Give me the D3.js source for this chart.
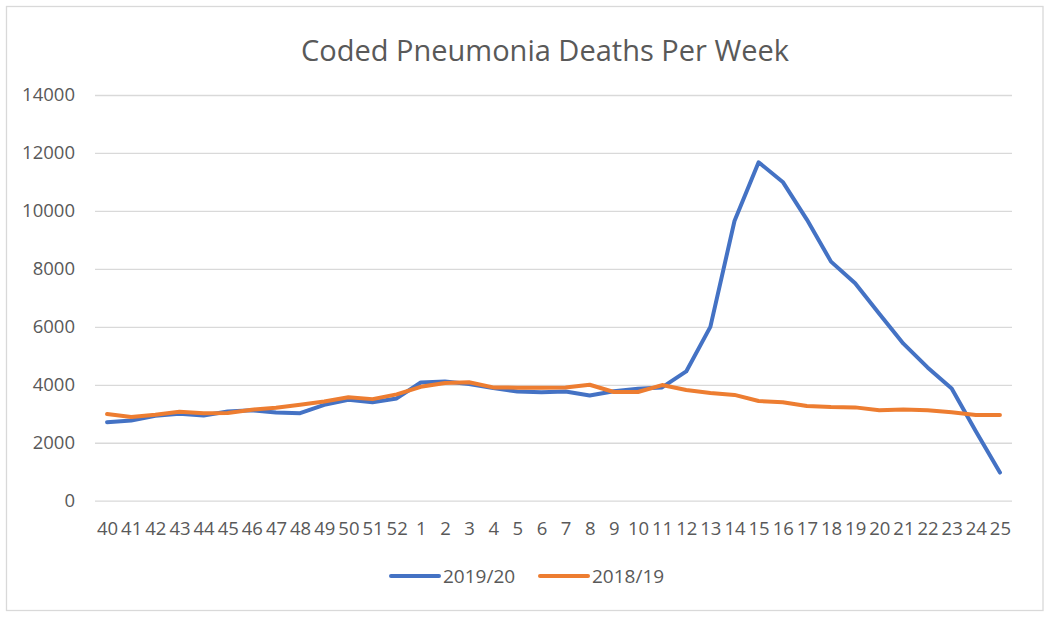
<!DOCTYPE html>
<html>
<head>
<meta charset="utf-8">
<script src="https://cdn.jsdelivr.net/npm/d3@7"></script>
<style>
  body { margin: 0; background: #fff; }
  svg { display: block; }
  text { font-family: "Open Sans", "Noto Sans", sans-serif; fill: #595959; }
</style>
</head>
<body>
<script>
// week numbers across the flu season
var weeks = ["40","41","42","43","44","45","46","47","48","49","50","51","52",
  "1","2","3","4","5","6","7","8","9","10","11","12","13","14","15","16","17",
  "18","19","20","21","22","23","24","25"];

var deaths1920 = [2710, 2770, 2930, 3000, 2940, 3080, 3120, 3040, 3020, 3310,
  3480, 3400, 3530, 4080, 4115, 4030, 3885, 3770, 3740, 3770, 3630, 3780, 3860,
  3910, 4460, 6000, 9650, 11680, 11000, 9700, 8250, 7500, 6450, 5420, 4600,
  3870, 2400, 970];

var deaths1819 = [2990, 2885, 2965, 3070, 3020, 3030, 3140, 3210, 3310, 3420,
  3570, 3505, 3670, 3930, 4060, 4090, 3910, 3900, 3900, 3910, 4000, 3750, 3750,
  3990, 3820, 3720, 3650, 3440, 3400, 3270, 3230, 3220, 3120, 3150, 3120,
  3050, 2960, 2960];

var yTicks = [0, 2000, 4000, 6000, 8000, 10000, 12000, 14000];

var series = [
  { name: "2019/20", values: deaths1920, color: "#4472C4" },
  { name: "2018/19", values: deaths1819, color: "#ED7D31" }
];

var W = 1049, H = 620;
var plot = { left: 95, right: 1012, top: 95, bottom: 500.7 };

var svg = d3.select("body").append("svg")
    .attr("width", W)
    .attr("height", H);

// chart frame
svg.append("rect")
    .attr("x", 6.5).attr("y", 6.5)
    .attr("width", 1036.5).attr("height", 604)
    .attr("fill", "#fff")
    .attr("stroke", "#d9d9d9")
    .attr("stroke-width", 1.3);

var x = d3.scalePoint().domain(weeks).range([plot.left, plot.right]).padding(0.5);
var y = d3.scaleLinear().domain([0, 14000]).range([plot.bottom, plot.top]);

// y axis + gridlines
var yAxis = svg.append("g")
    .attr("transform", "translate(" + plot.left + ",0)")
    .call(d3.axisLeft(y).tickValues(yTicks).tickFormat(d3.format("d"))
      .tickSize(-(plot.right - plot.left)).tickPadding(20));
yAxis.select(".domain").remove();
yAxis.selectAll("line").attr("stroke", "#d9d9d9").attr("stroke-width", 1.3);
yAxis.selectAll("text")
    .attr("font-size", 18.5)
    .style("font-family", "'Open Sans', sans-serif")
    .attr("fill", "#595959");

// x axis labels
var xAxis = svg.append("g")
    .attr("transform", "translate(0," + plot.bottom + ")")
    .call(d3.axisBottom(x).tickSize(0).tickPadding(21));
xAxis.select(".domain").remove();
xAxis.selectAll("text")
    .attr("font-size", 18.5)
    .style("font-family", "'Open Sans', sans-serif")
    .attr("fill", "#595959");

// the lines, in series order (orange ends up on top)
var line = d3.line()
    .x(function(d, i) { return x(weeks[i]); })
    .y(function(d) { return y(d); });

series.forEach(function(s) {
  svg.append("path")
      .datum(s.values)
      .attr("fill", "none")
      .attr("stroke", s.color)
      .attr("stroke-width", 4)
      .attr("stroke-linejoin", "round")
      .attr("stroke-linecap", "round")
      .attr("d", line);
});

// title
svg.append("text")
    .attr("x", 545)
    .attr("y", 61)
    .attr("text-anchor", "middle")
    .attr("font-size", 29)
    .text("Coded Pneumonia Deaths Per Week");

// legend
var legendX = [391, 540];
var legend = svg.selectAll(".legend")
    .data(series)
  .enter().append("g")
    .attr("class", "legend")
    .attr("transform", function(d, i) { return "translate(" + legendX[i] + ",576)"; });

legend.append("line")
    .attr("x1", 0).attr("x2", 48)
    .attr("stroke", function(d) { return d.color; })
    .attr("stroke-width", 4)
    .attr("stroke-linecap", "round");

legend.append("text")
    .attr("x", 52)
    .attr("y", 7)
    .attr("font-size", 19)
    .text(function(d) { return d.name; });
</script>
</body>
</html>
